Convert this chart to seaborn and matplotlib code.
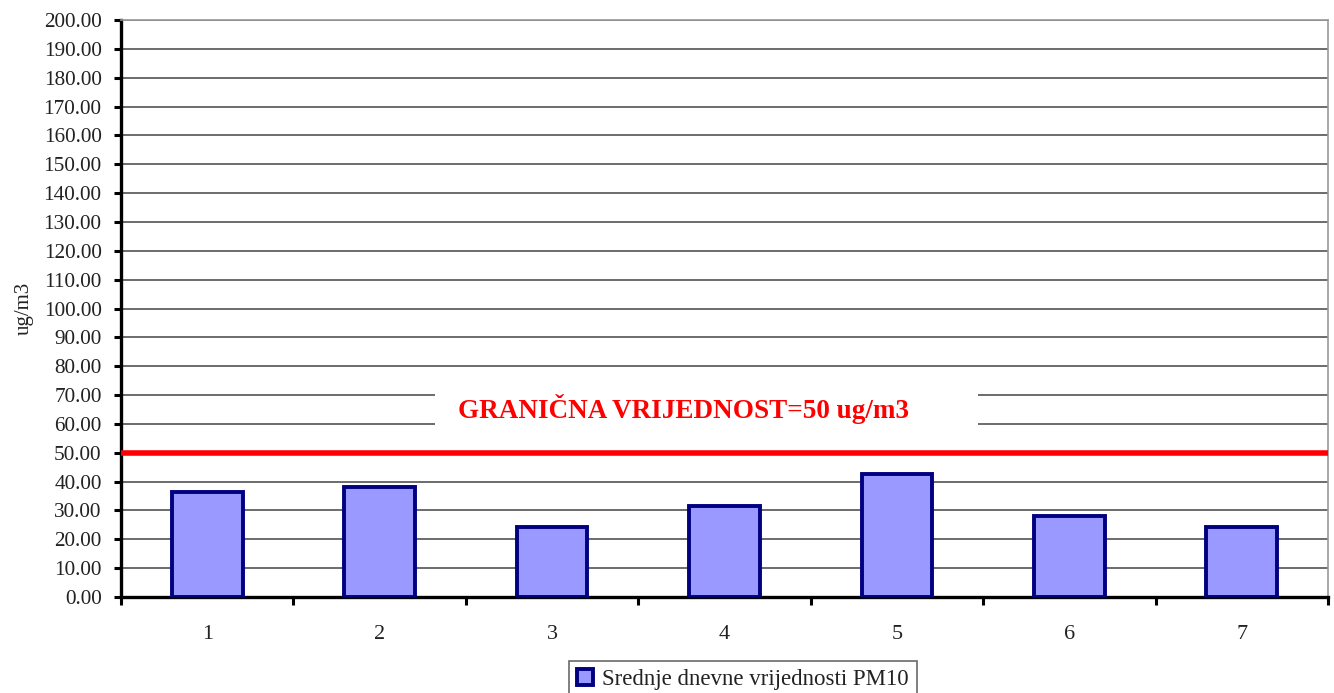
import numpy as np
import matplotlib
matplotlib.use("Agg")
import matplotlib.pyplot as plt
import pandas as pd
import seaborn as sns
from matplotlib.patches import Rectangle

days = ["1", "2", "3", "4", "5", "6", "7"]
pm10 = [36.4, 38.1, 24.3, 31.5, 42.6, 28.1, 24.3]
limit_value = 50
label = "Srednje dnevne vrijednosti PM10"
limit_text = "GRANIČNA VRIJEDNOST=50 ug/m3"

df = pd.DataFrame({"Dan": days, "PM10": pm10})

sns.set_theme(style="white")
plt.rcParams["font.family"] = ["Liberation Serif", "DejaVu Serif"]

fig = plt.figure(figsize=(13.34, 6.93), dpi=100)
ax = fig.add_axes([0.0907, 0.1385, 0.9048, 0.8325])

sns.barplot(data=df, x="Dan", y="PM10", ax=ax, color="#9999FF", width=0.41,
            edgecolor="#000080", linewidth=2.8, saturation=1, zorder=3,
            label=label)

ax.set_ylim(0, 200)
ax.set_xlim(-0.5, len(days) - 0.5)
ax.set_yticks(np.arange(0, 201, 10))
ax.set_yticklabels([f"{v:.2f}" for v in np.arange(0, 201, 10)], fontsize=15.3, color="#222222")
ax.set_xticks(range(len(days)))
ax.set_xticklabels(days, fontsize=16, color="#222222")
ax.tick_params(axis="x", which="major", length=0, pad=20)
ax.set_xticks(np.arange(-0.5, len(days), 1), minor=True)
ax.tick_params(axis="x", which="minor", direction="out", length=6, width=2.2, color="black", bottom=True)
ax.tick_params(axis="y", direction="out", length=5, width=2.2, color="black", left=True, pad=9)

ax.yaxis.grid(True, color="#444444", linewidth=1.1, zorder=0)
ax.set_axisbelow(True)

for side in ["left", "bottom"]:
    ax.spines[side].set_color("black")
    ax.spines[side].set_linewidth(2.4)
for side in ["top", "right"]:
    ax.spines[side].set_color("#999999")
    ax.spines[side].set_linewidth(1.2)

ax.set_xlabel("")
ax.set_ylabel("ug/m3", fontsize=15, color="#222222", labelpad=7)

# limit line and its label
ax.axhline(limit_value, color="#FF0000", linewidth=4, zorder=4)
ax.add_patch(Rectangle((1.32, 57), 3.15, 16, facecolor="white", edgecolor="none", zorder=2))
ax.text(2.76, 65.2, limit_text, color="#FF0000", fontsize=19.5, fontweight="bold",
        ha="center", va="center", zorder=5)

leg = ax.legend(loc="center", bbox_to_anchor=(0.557, 0.02), bbox_transform=fig.transFigure,
                fontsize=16.5, frameon=True, fancybox=False, handlelength=0.7, handleheight=0.7,
                handletextpad=0.4, borderpad=0.35, borderaxespad=0, edgecolor="#444444")
leg.get_frame().set_linewidth(1.2)
for t in leg.get_texts():
    t.set_color("#222222")

fig.savefig("out.png", dpi=100)
